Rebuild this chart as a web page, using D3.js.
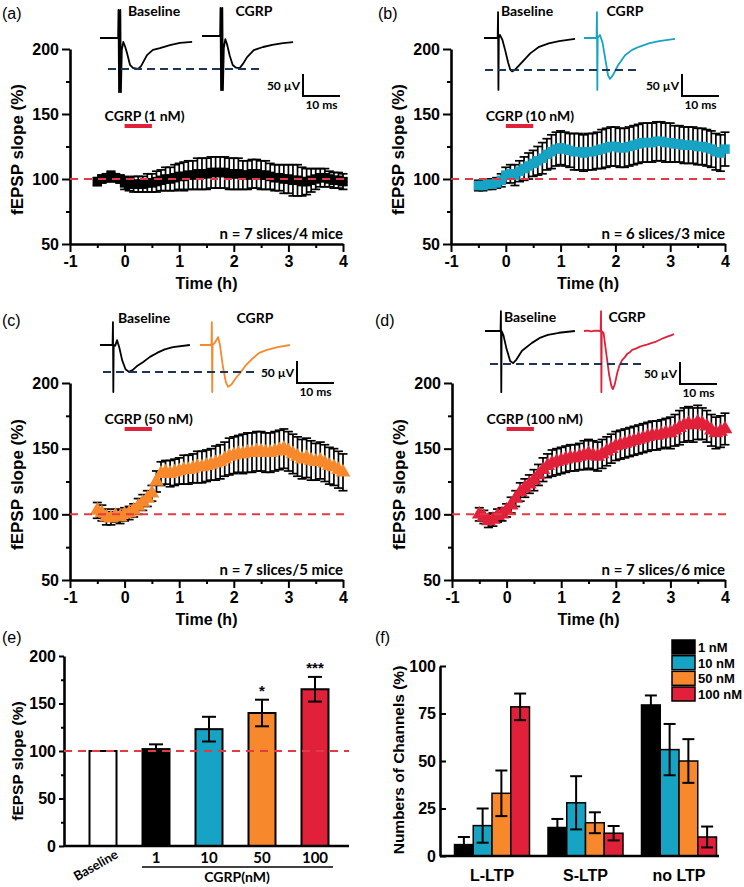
<!DOCTYPE html>
<html><head><meta charset="utf-8">
<script src="https://cdn.jsdelivr.net/npm/d3@7"></script>
<style>body{margin:0;background:#fff} svg{display:block}</style>
</head><body>
<svg id="c" width="744" height="887"></svg>
<script>
// ---------- DATA ----------
const minutes = [-30,-25,-20,-15,-10,-5,0,5,10,15,20,25,30,35,40,45,50,55,60,65,70,75,80,85,90,95,100,105,110,115,120,125,130,135,140,145,150,155,160,165,170,175,180,185,190,195,200,205,210,215,220,225,230,235,240];
const meanA = [98,100,101,102,101,100,97,96,96,96, 96,97,97,98,99,100,100,101,102,102, 103,103,104,104,104,105,105,105,105,104, 104,104,103,103,104,104,103,103,102,101, 101,100,100,99,99,98,98,99,100,101, 101,100,99,99,98];
const errA  = [3,3,3,4,3,3,5,5,6,6, 6,7,7,8,8,9,9,10,10,11, 11,11,12,12,12,12,12,12,12,12, 12,12,11,11,11,11,11,11,10,10, 10,11,11,12,12,11,10,9,8,7, 7,6,6,6,6];
const meanB = [95,95,96,96,97,99,103,104,103,106, 108,110,112,114,116,119,121,123,124,123, 122,121,121,120,121,121,122,123,124,125, 125,124,124,125,126,127,128,128,128,129, 129,128,128,127,127,126,126,126,125,125, 124,123,121,120,123];
const errB  = [4,4,4,4,4,5,6,7,8,8, 9,10,10,11,12,12,13,13,13,13, 13,14,14,14,14,14,14,15,15,15, 15,15,15,15,15,15,15,15,15,15, 15,15,15,14,14,14,14,14,14,14, 14,14,14,14,13];
const meanC = [103,101,98,97,99,98,100,101,103,106, 109,112,116,125,131,132,131,132,133,134, 134,135,136,136,137,138,139,140,142,144, 145,146,146,147,147,148,148,147,147,148, 149,150,148,146,144,142,143,141,140,141, 139,137,136,134,132];
const errC  = [6,6,6,5,5,5,5,5,5,6, 6,6,6,8,9,9,10,10,10,11, 11,11,12,12,12,12,13,13,13,14, 14,14,15,15,15,15,15,15,15,15, 15,15,15,15,15,15,15,15,14,14, 14,14,14,14,14];
const meanD = [100,98,95,96,99,100,103,107,112,117, 120,123,126,130,134,137,139,140,141,142, 143,143,144,145,146,145,144,146,148,150, 152,153,154,155,156,157,158,159,160,160, 161,162,162,164,166,168,169,168,170,169, 167,164,162,163,165];
const errD  = [5,5,5,5,5,5,5,6,6,7, 7,7,8,8,9,9,10,10,10,10, 10,10,10,11,11,11,11,11,11,11, 11,11,11,11,11,11,11,11,11,11, 11,11,12,12,13,13,13,13,13,12, 12,12,12,12,12];

const yTicksTime = [50,100,150,200];
const yMinorTime = [75,125,175];
const xTicksTime = [-1,0,1,2,3,4];
const xMinorTime = [-0.5,0.5,1.5,2.5,3.5];

// example field-potential traces: [ms, µV]
const traceBaseA = [[0,0],[4.9,0],[5.0,64],[5.15,-123],[5.5,64],[5.65,-123],[5.9,-27],[6.3,-9],[6.8,-20],[7.3,-34],[8.1,-61],[8.9,-68],[10.3,-70],[11.1,-64],[12.7,-39],[14.3,-27],[16.2,-23],[18.9,-16],[21.6,-11],[24.9,-9]];
const traceCgrpA = [[0,0],[4.9,0],[5.0,64],[5.15,-123],[5.5,64],[5.65,-123],[5.9,-27],[6.3,-7],[6.8,-20],[7.5,-45],[8.3,-66],[9.2,-72],[10.2,-73],[11,-64],[12.2,-48],[14,-32],[16.5,-25],[19,-20],[21.9,-16],[24.6,-14]];
const traceBaseB = [[0,0],[3.7,0],[3.8,59],[3.9,-118],[4.0,0],[4.3,7],[5.0,-5],[5.7,-27],[6.5,-55],[7.1,-72],[7.6,-76],[8.4,-72],[10.3,-55],[12.5,-35],[14.9,-20],[17.5,-12],[20.3,-7],[24.6,-2]];
const traceCgrpB = [[0,0],[3.4,0],[3.5,59],[3.6,-118],[3.7,0],[4.3,7],[5.0,-10],[5.8,-50],[6.5,-85],[7.0,-93],[7.8,-85],[9.2,-62],[11.1,-39],[13,-27],[14.9,-20],[17.5,-12],[20.3,-7],[24.6,-2]];
const traceBaseC = [[0,0],[3.4,0],[3.5,52],[3.6,-107],[3.7,0],[4.1,-2],[4.6,11],[5.2,-5],[6.0,-35],[6.9,-55],[7.8,-61],[8.8,-57],[10,-48],[11.6,-39],[13.5,-27],[15.4,-18],[17.5,-10],[19.7,-5],[24.3,0]];
const traceCgrpC = [[0,0],[3.1,0],[3.2,52],[3.3,-107],[3.4,0],[4.0,5],[4.9,18],[5.4,0],[6.2,-50],[7.0,-85],[7.6,-95],[8.5,-90],[9.7,-75],[10.8,-64],[12.5,-45],[14.3,-30],[16,-18],[18.1,-11],[21,-5],[24.3,0]];
const traceBaseD = [[0,0],[4.2,0],[4.3,45],[4.4,-139],[4.5,0],[5.0,-10],[5.8,-40],[6.8,-68],[7.6,-73],[8.5,-65],[10,-45],[12.7,-27],[15,-15],[17,-9],[20,-4],[24.3,0]];
const traceCgrpD = [[0,0],[1,1],[2,-1],[3,1],[4.5,0],[4.6,45],[4.7,-139],[4.8,0],[5.3,-5],[6.0,-50],[6.8,-100],[7.4,-125],[7.8,-132],[8.3,-122],[9.0,-95],[9.6,-78],[10.3,-66],[11,-60],[11.7,-52],[12.3,-49],[13,-43],[14,-40],[15,-36],[16,-33],[17,-31],[18.4,-27],[19.5,-24],[20.5,-20],[21.5,-16],[22.5,-13],[23.5,-10],[24.3,-7]];

// bar chart (e)
const barCats  = ['Baseline','1','10','50','100'];
const barMeans = [100,102,123,140,165];
const barErrs  = [0,5,13,14,13];
const barSig   = ['','','','*','***'];
const yTicksE = [0,50,100,150,200];
const yMinorE = [25,75,125,175];

// grouped bars (f)
const ltpCats = ['L-LTP','S-LTP','no LTP'];
const concs   = ['1 nM','10 nM','50 nM','100 nM'];
const pct1   = [6,15,79.5],  pctErr1   = [4,4.5,5];
const pct10  = [16,28,56],   pctErr10  = [9,14,13.5];
const pct50  = [33,17.5,50], pctErr50  = [12,5.5,11.5];
const pct100 = [78.5,12,10], pctErr100 = [7,3.8,5.5];
const yTicksF = [0,25,50,75,100];

// ---------- STYLE ----------
const F1 = "'Liberation Sans', Arial, sans-serif";
const F2 = "Lato, 'Open Sans', sans-serif";
const BLACK='#000', CYAN='#17a4c4', ORANGE='#f7892c', RED='#e1203a', DASHRED='#e33a44', NAVY='#1d3557';
const concColors = [BLACK, CYAN, ORANGE, RED];

const svg = d3.select('#c');

function styleAxis(g, fs){
  g.select('.domain').attr('stroke','#000').attr('stroke-width',2.6);
  g.selectAll('.tick line').attr('stroke','#000').attr('stroke-width',2);
  g.selectAll('.tick text').attr('font-family',F1).attr('font-weight','bold').attr('font-size',fs||16).attr('fill','#000');
}
function minorAxis(g){ g.select('.domain').remove(); g.selectAll('.tick line').attr('stroke','#000').attr('stroke-width',2); }

function timePanel(p){
  const x = d3.scaleLinear().domain([-1,4]).range([p.x0,p.x1]);
  const y = d3.scaleLinear().domain([50,200]).range([p.yb,p.yt]);
  const g = svg.append('g');
  const t = minutes.map(m=>m/60);

  const ya = g.append('g').attr('transform',`translate(${p.x0},0)`)
    .call(d3.axisLeft(y).tickValues(yTicksTime).tickSize(8).tickSizeOuter(0).tickPadding(3).tickFormat(d=>String(d)));
  styleAxis(ya);
  g.append('g').attr('transform',`translate(${p.x0},0)`)
    .call(d3.axisLeft(y).tickValues(yMinorTime).tickSize(4).tickSizeOuter(0).tickFormat('')).call(minorAxis);
  const xa = g.append('g').attr('transform',`translate(0,${p.yb})`)
    .call(d3.axisBottom(x).tickValues(xTicksTime).tickSize(8).tickSizeOuter(0).tickPadding(4).tickFormat(d=>String(d)));
  styleAxis(xa);
  g.append('g').attr('transform',`translate(0,${p.yb})`)
    .call(d3.axisBottom(x).tickValues(xMinorTime).tickSize(4).tickSizeOuter(0).tickFormat('')).call(minorAxis);

  g.append('text').attr('transform',`translate(${p.x0-53},${(p.yt+p.yb)/2+3}) rotate(-90)`)
    .attr('text-anchor','middle').attr('dominant-baseline','central')
    .attr('font-family',F1).attr('font-weight','bold').attr('font-size',17).text('fEPSP slope (%)');
  g.append('text').attr('x',(p.x0+p.x1)/2).attr('y',p.yb+45).attr('text-anchor','middle')
    .attr('font-family',F1).attr('font-weight','bold').attr('font-size',16).text('Time (h)');

  const eb = g.append('g').attr('stroke','#000').attr('stroke-width',1.7);
  p.mean.forEach((m,i)=>{
    const xi = x(t[i]), y1=y(m+p.err[i]), y2=y(m-p.err[i]);
    eb.append('line').attr('x1',xi).attr('x2',xi).attr('y1',y1).attr('y2',y2);
    eb.append('line').attr('x1',xi-4.5).attr('x2',xi+4.5).attr('y1',y1).attr('y2',y1);
    eb.append('line').attr('x1',xi-4.5).attr('x2',xi+4.5).attr('y1',y2).attr('y2',y2);
  });
  const sym = d3.symbol().type(p.shape==='tri'?d3.symbolTriangle:d3.symbolSquare).size(p.shape==='tri'?95:90);
  g.append('g').selectAll('path').data(p.mean).join('path')
    .attr('transform',(d,i)=>`translate(${x(t[i])},${y(d)})`).attr('d',sym).attr('fill',p.color);

  g.append('line').attr('x1',x(-1)).attr('x2',x(4.05)).attr('y1',y(100)).attr('y2',y(100))
    .attr('stroke',DASHRED).attr('stroke-width',2).attr('stroke-dasharray','8,6');

  g.append('line').attr('x1',x(0)).attr('x2',x(0.5)).attr('y1',p.drugY).attr('y2',p.drugY)
    .attr('stroke',RED).attr('stroke-width',4);
  g.append('text').attr('x',x(0)-20).attr('y',p.drugY-5).attr('font-family',F2).attr('font-weight','bold')
    .attr('font-size',14).text(p.drug);
  g.append('text').attr('x',x(4)).attr('y',p.yb-5).attr('text-anchor','end').attr('font-family',F2)
    .attr('font-weight','bold').attr('font-size',15).text(p.nText);

  g.append('text').attr('x',p.lab[0]).attr('y',p.lab[1]).attr('font-family',F1).attr('font-size',16).text(p.id);

  p.traces.forEach(tr=>{
    const tx = d3.scaleLinear().domain([0,10]).range([tr.x,tr.x+37]);
    const ty = d3.scaleLinear().domain([0,50]).range([tr.y,tr.y-22]);
    g.append('path').datum(tr.data).attr('d',d3.line().x(d=>tx(d[0])).y(d=>ty(d[1])))
      .attr('fill','none').attr('stroke',tr.color).attr('stroke-width',1.8).attr('stroke-linejoin','round');
    g.append('text').attr('x',tr.lx).attr('y',tr.ly).attr('text-anchor','middle').attr('font-family',F2)
      .attr('font-weight','bold').attr('font-size',14).text(tr.label);
  });
  g.append('line').attr('x1',p.dash[0]).attr('x2',p.dash[1]).attr('y1',p.dash[2]).attr('y2',p.dash[2])
    .attr('stroke',NAVY).attr('stroke-width',2).attr('stroke-dasharray','8,5');
  const sx = d3.scaleLinear().domain([0,10]).range([p.sb[0],p.sb[0]+37]);
  const sy = d3.scaleLinear().domain([0,50]).range([p.sb[1],p.sb[1]-22]);
  g.append('path').attr('d',`M${sx(0)},${sy(50)}V${sy(0)}H${sx(10)}`).attr('fill','none').attr('stroke','#000').attr('stroke-width',2);
  g.append('text').attr('x',sx(0)-3).attr('y',sy(25)+5).attr('text-anchor','end').attr('font-family',F2)
    .attr('font-weight','bold').attr('font-size',12).text('50 µV');
  g.append('text').attr('x',sx(5)).attr('y',sy(0)+13).attr('text-anchor','middle').attr('font-family',F2)
    .attr('font-weight','bold').attr('font-size',12).text('10 ms');
}

timePanel({id:'(a)',lab:[2,19],x0:70,x1:343,yt:49,yb:244,mean:meanA,err:errA,color:BLACK,shape:'sq',
  drug:'CGRP (1 nM)',drugY:126,nText:'n = 7 slices/4 mice',
  traces:[{x:100,y:38,data:traceBaseA,color:BLACK,label:'Baseline',lx:154,ly:16},
          {x:202,y:36,data:traceCgrpA,color:BLACK,label:'CGRP',lx:254,ly:16}],
  dash:[108,260,69],sb:[303,96]});
timePanel({id:'(b)',lab:[378,19],x0:451,x1:725,yt:49,yb:244,mean:meanB,err:errB,color:CYAN,shape:'sq',
  drug:'CGRP (10 nM)',drugY:126,nText:'n = 6 slices/3 mice',
  traces:[{x:484,y:38,data:traceBaseB,color:BLACK,label:'Baseline',lx:527,ly:16},
          {x:584,y:38,data:traceCgrpB,color:CYAN,label:'CGRP',lx:625,ly:16}],
  dash:[485,639,70],sb:[682,96]});
timePanel({id:'(c)',lab:[2,326],x0:70,x1:343,yt:383,yb:580,mean:meanC,err:errC,color:ORANGE,shape:'tri',
  drug:'CGRP (50 nM)',drugY:429,nText:'n = 7 slices/5 mice',
  traces:[{x:100,y:345,data:traceBaseC,color:BLACK,label:'Baseline',lx:144,ly:323},
          {x:200,y:345,data:traceCgrpC,color:ORANGE,label:'CGRP',lx:255,ly:323}],
  dash:[103,257,372],sb:[297,383]});
timePanel({id:'(d)',lab:[375,326],x0:452,x1:725,yt:383,yb:580,mean:meanD,err:errD,color:RED,shape:'tri',
  drug:'CGRP (100 nM)',drugY:429,nText:'n = 7 slices/6 mice',
  traces:[{x:485,y:331,data:traceBaseD,color:BLACK,label:'Baseline',lx:530,ly:322},
          {x:584,y:331,data:traceCgrpD,color:RED,label:'CGRP',lx:627,ly:322}],
  dash:[490,643,364],sb:[680,384]});

// ---------- PANEL (e) ----------
(function(){
  const g = svg.append('g');
  const x = d3.scalePoint().domain(barCats).range([103,315]);
  const y = d3.scaleLinear().domain([0,200]).range([846,656]);
  const bw = 27;
  const colors = ['#fff',BLACK,CYAN,ORANGE,RED];
  g.selectAll('rect').data(barMeans).join('rect')
    .attr('x',(d,i)=>x(barCats[i])-bw/2).attr('width',bw).attr('y',d=>y(d)).attr('height',d=>y(0)-y(d))
    .attr('fill',(d,i)=>colors[i]).attr('stroke','#000').attr('stroke-width',2);
  const eb = g.append('g').attr('stroke','#000').attr('stroke-width',2);
  barMeans.forEach((m,i)=>{
    if(!barErrs[i]) return;
    const xi=x(barCats[i]), y1=y(m+barErrs[i]), y2=y(m-barErrs[i]);
    eb.append('line').attr('x1',xi).attr('x2',xi).attr('y1',y1).attr('y2',y2);
    eb.append('line').attr('x1',xi-7).attr('x2',xi+7).attr('y1',y1).attr('y2',y1);
    eb.append('line').attr('x1',xi-7).attr('x2',xi+7).attr('y1',y2).attr('y2',y2);
    if(barSig[i]) g.append('text').attr('x',xi).attr('y',y1-4).attr('text-anchor','middle')
      .attr('font-family',F1).attr('font-weight','bold').attr('font-size',15).text(barSig[i]);
  });
  const ya = g.append('g').attr('transform','translate(64,0)')
    .call(d3.axisLeft(y).tickValues(yTicksE).tickSize(5).tickSizeOuter(0).tickPadding(3).tickFormat(d=>String(d)));
  styleAxis(ya);
  g.append('g').attr('transform','translate(64,0)')
    .call(d3.axisLeft(y).tickValues(yMinorE).tickSize(3).tickSizeOuter(0).tickFormat('')).call(minorAxis);
  g.append('line').attr('x1',64).attr('x2',349).attr('y1',846).attr('y2',846).attr('stroke','#000').attr('stroke-width',2.6);
  g.append('line').attr('x1',64).attr('x2',349).attr('y1',y(100)).attr('y2',y(100))
    .attr('stroke',DASHRED).attr('stroke-width',2).attr('stroke-dasharray','8,6');
  barCats.forEach((c,i)=>{
    if(i===0){
      g.append('text').attr('transform',`translate(${x(c)+16},${857}) rotate(-30)`).attr('text-anchor','end')
        .attr('font-family',F2).attr('font-weight','bold').attr('font-size',13).text(c);
    } else {
      g.append('text').attr('x',x(c)).attr('y',863).attr('text-anchor','middle')
        .attr('font-family',F2).attr('font-weight','bold').attr('font-size',15).text(c);
    }
  });
  g.append('line').attr('x1',142).attr('x2',333).attr('y1',867).attr('y2',867).attr('stroke','#000').attr('stroke-width',1.6);
  g.append('text').attr('x',237).attr('y',882).attr('text-anchor','middle').attr('font-family',F2)
    .attr('font-weight','bold').attr('font-size',14).text('CGRP(nM)');
  g.append('text').attr('transform','translate(17,761) rotate(-90)').attr('text-anchor','middle')
    .attr('dominant-baseline','central').attr('font-family',F1).attr('font-weight','bold').attr('font-size',15.5).text('fEPSP slope (%)');
  g.append('text').attr('x',2).attr('y',643).attr('font-family',F1).attr('font-size',16).text('(e)');
})();

// ---------- PANEL (f) ----------
(function(){
  const g = svg.append('g');
  const x = d3.scalePoint().domain(ltpCats).range([492,679]);
  const xs = d3.scaleBand().domain(concs).range([-37.5,37.5]).padding(0);
  const y = d3.scaleLinear().domain([0,100]).range([856,666]);
  const series = [[pct1,pctErr1],[pct10,pctErr10],[pct50,pctErr50],[pct100,pctErr100]];
  series.forEach(([vals,errs],k)=>{
    vals.forEach((v,i)=>{
      const x0 = x(ltpCats[i])+xs(concs[k]);
      g.append('rect').attr('x',x0).attr('width',xs.bandwidth()).attr('y',y(v)).attr('height',y(0)-y(v))
        .attr('fill',concColors[k]).attr('stroke','#000').attr('stroke-width',1.5);
    });
  });
  const eb = g.append('g').attr('stroke','#000').attr('stroke-width',2);
  series.forEach(([vals,errs],k)=>{
    vals.forEach((v,i)=>{
      const xi = x(ltpCats[i])+xs(concs[k])+xs.bandwidth()/2, y1=y(v+errs[i]), y2=y(v-errs[i]);
      eb.append('line').attr('x1',xi).attr('x2',xi).attr('y1',y1).attr('y2',y2);
      eb.append('line').attr('x1',xi-6).attr('x2',xi+6).attr('y1',y1).attr('y2',y1);
      eb.append('line').attr('x1',xi-6).attr('x2',xi+6).attr('y1',y2).attr('y2',y2);
    });
  });
  const ya = g.append('g').attr('transform','translate(440,0)')
    .call(d3.axisLeft(y).tickValues(yTicksF).tickSize(-6).tickSizeOuter(0).tickPadding(4).tickFormat(d=>String(d)));
  styleAxis(ya);
  g.append('line').attr('x1',440).attr('x2',719).attr('y1',856).attr('y2',856).attr('stroke','#000').attr('stroke-width',2.6);
  ltpCats.forEach(c=>g.append('text').attr('x',x(c)).attr('y',881).attr('text-anchor','middle')
    .attr('font-family',F1).attr('font-weight','bold').attr('font-size',16).text(c));
  g.append('text').attr('transform','translate(398,760) rotate(-90)').attr('text-anchor','middle')
    .attr('dominant-baseline','central').attr('font-family',F1).attr('font-weight','bold').attr('font-size',15.5).text('Numbers of Channels (%)');
  g.append('text').attr('x',375).attr('y',643).attr('font-family',F1).attr('font-size',16).text('(f)');
  const ly = d3.scalePoint().domain(concs).range([647,694]);
  concs.forEach((c,k)=>{
    g.append('rect').attr('x',672).attr('y',ly(c)-7).attr('width',23).attr('height',14)
      .attr('fill',concColors[k]).attr('stroke','#000').attr('stroke-width',1.5);
    g.append('text').attr('x',698).attr('y',ly(c)+5).attr('font-family',F1).attr('font-weight','bold')
      .attr('font-size',13).text(c);
  });
})();
</script>
</body></html>
